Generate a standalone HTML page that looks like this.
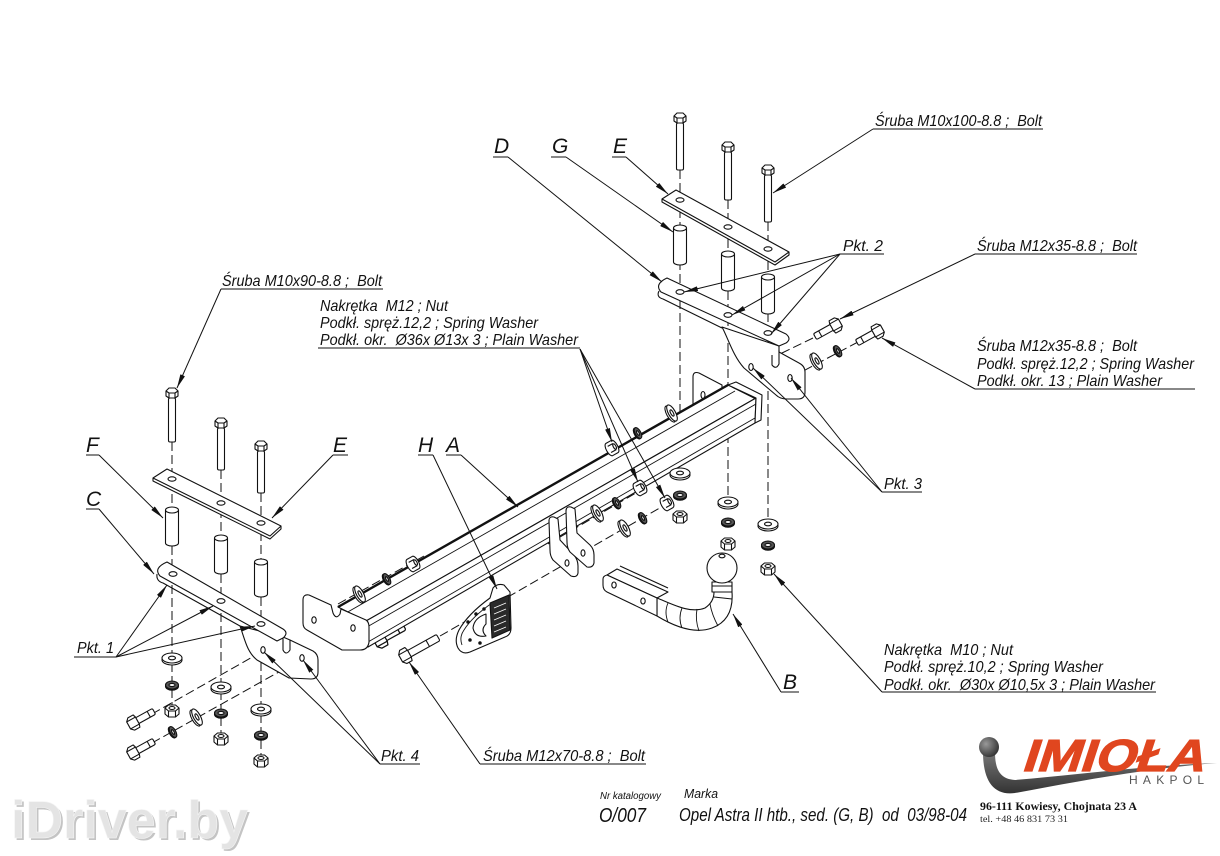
<!DOCTYPE html>
<html><head><meta charset="utf-8">
<style>
html,body{margin:0;padding:0;background:#fff;width:1220px;height:856px;overflow:hidden}
svg{display:block}
.t{font-family:"Liberation Sans Narrow","Liberation Sans",sans-serif;font-style:italic;font-size:16px;fill:#111;white-space:pre}
.L{font-family:"Liberation Sans Narrow","Liberation Sans",sans-serif;font-style:italic;font-size:21px;fill:#111}
</style></head><body>
<svg width="1220" height="856" viewBox="0 0 1220 856" xmlns="http://www.w3.org/2000/svg" xml:space="preserve">
<defs>
<marker id="a" viewBox="0 0 14 5" refX="14" refY="2.5" markerWidth="14" markerHeight="5" markerUnits="userSpaceOnUse" orient="auto"><path d="M0,0L14,2.5L0,5Z" fill="#111"/></marker>
<g id="wv" fill="#fff" stroke="#111"><ellipse cy="2" rx="10" ry="5"/><ellipse rx="10" ry="5"/><ellipse rx="3.5" ry="1.8"/></g>
<g id="sv" stroke="#111"><ellipse cy="1.2" rx="6.5" ry="4" fill="#222"/><ellipse rx="6.5" ry="4" fill="#555"/><ellipse rx="3" ry="1.6" fill="#fff"/></g>
<g id="nv" fill="#fff" stroke="#111"><path d="M-7,-2L-3.5,-5L3.5,-5L7,-2L7,4L3.5,7L-3.5,7L-7,4Z"/><path d="M-7,-2L-3.5,1L3.5,1L7,-2M-3.5,1V7M3.5,1V7" fill="none"/><ellipse cy="-2" rx="3" ry="1.5"/></g>
<g id="wd" fill="#fff" stroke="#111"><ellipse cx="-2" rx="3.5" ry="9"/><ellipse rx="3.5" ry="9"/><ellipse rx="1.3" ry="3.5"/></g>
<g id="sd" stroke="#111"><ellipse cx="-1" rx="2.8" ry="6" fill="#222"/><ellipse rx="2.8" ry="6" fill="#555"/><ellipse rx="1" ry="2.6" fill="#fff"/></g>
<g id="nd" fill="#fff" stroke="#111"><path d="M-3,-7H3A3,7 0 0 1 3,7H-3A3,7 0 0 1 -3,-7Z"/><path d="M-3,-3.5H3M-3,3.5H3" fill="none"/><ellipse cx="3" rx="1.3" ry="3"/></g>
<g id="bd" fill="#fff" stroke="#111"><rect x="4" y="-3.3" width="20" height="6.6" rx="1.5"/><path d="M18,-3.3V3.3" fill="none"/><path d="M-5,-4L-2,-7H4L5,-4V4L4,7H-2L-5,4Z"/><path d="M-5,-4H5M-5,4H5" fill="none"/></g>
<g id="bdl" fill="#fff" stroke="#111"><rect x="4" y="-3.6" width="34" height="7.2" rx="1.5"/><path d="M26,-3.6V3.6" fill="none"/><path d="M-5,-4L-2,-7.5H4L5,-4V4L4,7.5H-2L-5,4Z"/><path d="M-5,-4H5M-5,4H5" fill="none"/></g>
<g id="bh" fill="#fff" stroke="#111"><path d="M-6,-2L-3,-5L3,-5L6,-2L6,3L3,5L-3,5L-6,3Z"/><path d="M-6,-2L-3,0L3,0L6,-2M-3,0V5M3,0V5" fill="none"/></g>
<linearGradient id="gr" x1="0" y1="0" x2="0" y2="1"><stop offset="0" stop-color="#777"/><stop offset="1" stop-color="#333"/></linearGradient>
<radialGradient id="gb" cx="0.35" cy="0.35" r="0.7"><stop offset="0" stop-color="#999"/><stop offset="1" stop-color="#333"/></radialGradient>
</defs>

<!-- dashed axis lines -->
<g fill="none" stroke="#111" stroke-width="1" stroke-dasharray="9,4">
<path d="M680,170V470M728,200V500M768,222V522"/>
<path d="M172,442V712M221,470V740M261,493V762"/>
<path d="M152,714L263,651M152,743L302,659"/>
<path d="M338,604L424,556"/>
<path d="M598,459L700,401"/>
<path d="M548,544L648,486"/>
<path d="M583,552L672,501"/>
<path d="M440,636L567,563"/>
<path d="M813,338L751,368M858,342L790,378"/>
</g>

<g fill="#fff" stroke="#111" stroke-width="1.1" stroke-linejoin="round">
<!-- top bolts -->
<rect x="676.5" y="123" width="7" height="47" rx="1.5"/><use href="#bh" x="680" y="118"/>
<rect x="724.5" y="152" width="7" height="48" rx="1.5"/><use href="#bh" x="728" y="147"/>
<rect x="764.5" y="175" width="7" height="47" rx="1.5"/><use href="#bh" x="768" y="170"/>
<!-- top plate E -->
<path d="M662,199L676,190L789,252L789,255L775,265L662,202Z"/>
<path d="M662,199L775,262L789,252" fill="none"/>
<ellipse cx="680" cy="200" rx="4" ry="2.2"/><ellipse cx="728" cy="227" rx="4" ry="2.2"/><ellipse cx="768" cy="249" rx="4" ry="2.2"/>
<!-- top spacers G -->
<path d="M673.5,228V262A6.5,3 0 0 0 686.5,262V228Z"/><ellipse cx="680" cy="228" rx="6.5" ry="3"/>
<path d="M721.5,254V288A6.5,3 0 0 0 734.5,288V254Z"/><ellipse cx="728" cy="254" rx="6.5" ry="3"/>
<path d="M761.5,277V311A6.5,3 0 0 0 774.5,311V277Z"/><ellipse cx="768" cy="277" rx="6.5" ry="3"/>
<!-- small back plate -->
<path d="M693,377Q693,371 699,373L722,385L722,398L700,418Q693,421 693,414Z"/>
<ellipse cx="703" cy="395" rx="2" ry="3.5"/>
<!-- bracket D web -->
<path d="M722,327C728,338 733,356 744,368L776,395Q780,399 787,399L798,399Q805,399 805,392L805,372Q805,366 799,363L779,352L779,346Z"/>
<path d="M779,350L779,364Q776,370 772,365L772,355" fill="none"/>
<ellipse cx="751" cy="367" rx="2.2" ry="3.5"/><ellipse cx="790" cy="378" rx="2.2" ry="3.5"/>
<!-- bracket D bar -->
<path d="M659,291Q656,297 663,299L722,328" fill="none"/>
<path d="M667,278L786,334Q792,339 786,343L779,346L661,292Q654,284 667,278Z"/>
<ellipse cx="680" cy="292" rx="4" ry="2.3"/><ellipse cx="728" cy="315" rx="4" ry="2.3"/><ellipse cx="768" cy="333" rx="4" ry="2.3"/>

<!-- right M12 bolts + washers -->
<use href="#bd" transform="translate(836,325) rotate(151)"/>
<use href="#bd" transform="translate(878,331) rotate(151)"/>
<use href="#sd" transform="translate(838,351) rotate(-29)"/>
<use href="#wd" transform="translate(817,361) rotate(-29)"/>

<!-- under-beam bolt -->
<use href="#bd" transform="translate(380,640) rotate(-29) scale(1.15)"/>

<!-- beam -->
<path d="M338,607L728,385L756,398L366,621Z"/>
<path d="M366,621L756,398L755,423L368,647Z"/>
<path d="M728,385L736,382L762,395L761,420L755,423L756,398Z"/>
<path d="M732,387L756,399" fill="none"/>
<path d="M338,607L728,385" fill="none" stroke-width="2.4"/>
<path d="M346,613L735,391M367,627L756,404M368,642L755,418" fill="none" stroke-width="0.9"/>
<!-- left end plate -->
<path d="M303,600Q303,594 309,595L331,605L333,613Q336,620 340,614L341,609L366,620Q369,622 369,627L369,642Q368,650 360,650L342,650L307,630Q303,628 303,623Z"/>
<ellipse cx="314" cy="620" rx="2.2" ry="3.2"/><ellipse cx="353" cy="628" rx="2.2" ry="3.2"/>

<!-- beam top washers -->
<use href="#wd" transform="translate(360,594) rotate(-29)"/>
<use href="#sd" transform="translate(387,579) rotate(-29)"/>
<use href="#nd" transform="translate(413,564) rotate(-29)"/>
<use href="#nd" transform="translate(612,448) rotate(-29)"/>
<use href="#sd" transform="translate(638,433) rotate(-29)"/>
<use href="#wd" transform="translate(672,413) rotate(-29)"/>

<!-- mid ears -->
<path d="M549,521Q549,516 554,517L558,519L560,540L574,555Q578,560 578,566L578,573Q577,578 571,576L553,560Q550,556 550,550Z"/>
<ellipse cx="567" cy="563" rx="2" ry="3.2"/>
<path d="M566,511Q566,506 571,507L575,509L577,533L590,545Q594,549 594,555L594,563Q593,568 587,567L570,552Q567,548 567,542Z"/>
<ellipse cx="583" cy="553" rx="2" ry="3.2"/>

<!-- lower rows -->
<use href="#wd" transform="translate(598,513) rotate(-29)"/>
<use href="#sd" transform="translate(617,503) rotate(-29)"/>
<use href="#nd" transform="translate(640,488) rotate(-29)"/>
<use href="#wd" transform="translate(625,528) rotate(-29)"/>
<use href="#sd" transform="translate(643,518) rotate(-29)"/>
<use href="#nd" transform="translate(667,503) rotate(-29)"/>

<!-- right vertical stacks -->
<use href="#wv" x="680" y="473"/><use href="#sv" x="680" y="495"/><use href="#nv" x="680" y="516"/>
<use href="#wv" x="728" y="502"/><use href="#sv" x="728" y="522"/><use href="#nv" x="728" y="543"/>
<use href="#wv" x="768" y="524"/><use href="#sv" x="768" y="545"/><use href="#nv" x="768" y="568"/>

<!-- ball mount -->
<path d="M620,566L668,588" fill="none"/>
<path d="M607,575L617,569L668,592L657,598Z"/>
<path d="M657,598C672,604 690,614 705,608Q714,602 714,592L732,592Q734,620 712,628Q690,636 657,616Z"/>
<path d="M607,575L657,598L657,616L607,592Q603,590 603,585L603,579Q603,576 607,575Z"/>
<ellipse cx="614" cy="585" rx="2.2" ry="3"/><ellipse cx="643" cy="601" rx="2.2" ry="3"/>
<path d="M668,603Q664,612 668,622M682,608Q678,618 682,628M697,609Q695,620 699,631M710,604Q712,615 718,626M714,597L732,599" fill="none" stroke-width="0.9"/>
<path d="M712,592L712,582L732,582L732,592Z"/>
<path d="M712,586H732" fill="none"/>
<circle cx="722" cy="568" r="15"/>
<ellipse cx="722" cy="556" rx="3" ry="1.8"/>

<!-- socket H -->
<path d="M458,648Q454,640 459,630Q468,614 490,598L493,588Q497,583 504,585L510,592L511,628Q511,635 505,637L470,652Q462,655 458,648Z"/>
<path d="M462,645Q459,637 464,630Q472,617 492,603" fill="none" stroke-width="0.9"/>
<path d="M490,603L509,595L510,630L492,638Z" fill="#2a2a2a"/>
<path d="M494,608L506,603M494,614L506,609M494,620L506,615M494,626L506,621M494,632L506,627" fill="none" stroke="#fff" stroke-width="0.8"/>
<path d="M486,614Q474,618 473,628Q475,638 486,636Q480,630 486,624Z"/>
<circle cx="468" cy="622" r="1.2" fill="#111"/><circle cx="476" cy="614" r="1.2" fill="#111"/><circle cx="484" cy="609" r="1.2" fill="#111"/><circle cx="470" cy="640" r="1.2" fill="#111"/><circle cx="480" cy="643" r="1.2" fill="#111"/>

<!-- M12x70 bolt -->
<use href="#bdl" transform="translate(405,656) rotate(-29)"/>

<!-- left vertical bolts -->
<rect x="168.5" y="398" width="7" height="44" rx="1.5"/><use href="#bh" x="172" y="393"/>
<rect x="217.5" y="428" width="7" height="42" rx="1.5"/><use href="#bh" x="221" y="423"/>
<rect x="257.5" y="451" width="7" height="42" rx="1.5"/><use href="#bh" x="261" y="446"/>
<!-- left plate E -->
<path d="M153,478L167,469L281,526L281,529L270,539L153,481Z"/>
<path d="M153,478L270,536L281,526" fill="none"/>
<ellipse cx="172" cy="479" rx="4" ry="2.2"/><ellipse cx="221" cy="503" rx="4" ry="2.2"/><ellipse cx="261" cy="523" rx="4" ry="2.2"/>
<!-- left spacers F -->
<path d="M165.5,510V543A6.5,3 0 0 0 178.5,543V510Z"/><ellipse cx="172" cy="510" rx="6.5" ry="3"/>
<path d="M214.5,538V571A6.5,3 0 0 0 227.5,571V538Z"/><ellipse cx="221" cy="538" rx="6.5" ry="3"/>
<path d="M254.5,562V594A6.5,3 0 0 0 267.5,594V562Z"/><ellipse cx="261" cy="562" rx="6.5" ry="3"/>
<!-- bracket C -->
<path d="M240,626C245,640 247,652 257,660L289,678L311,679Q318,679 318,672L318,660Q318,654 313,651L290,640L283,637Z"/>
<path d="M283,637L283,650Q286,656 290,650L290,640" fill="none"/>
<ellipse cx="263" cy="650" rx="2.2" ry="3.3"/><ellipse cx="302" cy="658" rx="2.2" ry="3.3"/>
<path d="M157,574Q156,581 163,583L240,626" fill="none"/>
<path d="M167,562L283,629Q289,633 283,638L277,641L160,576Q153,568 167,562Z"/>
<ellipse cx="173" cy="574" rx="4" ry="2.3"/><ellipse cx="221" cy="601" rx="4" ry="2.3"/><ellipse cx="261" cy="624" rx="4" ry="2.3"/>

<!-- left stacks -->
<use href="#wv" x="172" y="658"/><use href="#sv" x="172" y="685"/><use href="#nv" x="172" y="710"/>
<use href="#wv" x="221" y="687"/><use href="#sv" x="221" y="713"/><use href="#nv" x="221" y="738"/>
<use href="#wv" x="261" y="709"/><use href="#sv" x="261" y="735"/><use href="#nv" x="261" y="760"/>
<use href="#bd" transform="translate(133,723) rotate(-29)"/>
<use href="#bd" transform="translate(133,753) rotate(-29)"/>
<use href="#sd" transform="translate(173,732) rotate(-29)"/>
<use href="#wd" transform="translate(197,717) rotate(-29)"/>
</g>

<!-- leaders -->
<g fill="none" stroke="#111" stroke-width="1">
<path d="M873,129H1043"/><path d="M873,129L773,193" marker-end="url(#a)"/>
<path d="M493,157H508"/><path d="M508,157L662,282" marker-end="url(#a)"/>
<path d="M551,157H566"/><path d="M566,157L673,232" marker-end="url(#a)"/>
<path d="M612,157H626"/><path d="M626,157L668,194" marker-end="url(#a)"/>
<path d="M840,254H884"/>
<path d="M840,254L684,292" marker-end="url(#a)"/><path d="M840,254L732,315" marker-end="url(#a)"/><path d="M840,254L771,334" marker-end="url(#a)"/>
<path d="M975,254H1137"/><path d="M975,254L840,319" marker-end="url(#a)"/>
<path d="M975,389H1195"/><path d="M975,389L882,338" marker-end="url(#a)"/>
<path d="M882,492H922"/><path d="M882,492L753,368" marker-end="url(#a)"/><path d="M882,492L791,378" marker-end="url(#a)"/>
<path d="M221,289H383"/><path d="M221,289L177,388" marker-end="url(#a)"/>
<path d="M318,348H580"/>
<path d="M580,349L612,442" marker-end="url(#a)"/><path d="M580,349L638,482" marker-end="url(#a)"/><path d="M580,349L665,498" marker-end="url(#a)"/>
<path d="M86,455H99"/><path d="M99,455L163,518" marker-end="url(#a)"/>
<path d="M333,455H348"/><path d="M333,455L272,518" marker-end="url(#a)"/>
<path d="M418,455H433"/><path d="M433,455L497,589" marker-end="url(#a)"/>
<path d="M446,455H461"/><path d="M461,455L518,507" marker-end="url(#a)"/>
<path d="M86,509H99"/><path d="M99,509L154,574" marker-end="url(#a)"/>
<path d="M74,657H116"/>
<path d="M116,657L167,585" marker-end="url(#a)"/><path d="M116,657L213,606" marker-end="url(#a)"/><path d="M116,657L255,626" marker-end="url(#a)"/>
<path d="M380,764H420"/><path d="M380,764L264,652" marker-end="url(#a)"/><path d="M380,764L303,660" marker-end="url(#a)"/>
<path d="M480,764H646"/><path d="M480,764L409,662" marker-end="url(#a)"/>
<path d="M781,692H799"/><path d="M781,692L733,614" marker-end="url(#a)"/>
<path d="M882,692H1156"/><path d="M882,692L774,574" marker-end="url(#a)"/>
</g>

<!-- labels -->
<text class="t" x="875" y="126" textLength="167" lengthAdjust="spacingAndGlyphs">Śruba M10x100-8.8 ;  Bolt</text>
<text class="L" x="494" y="153">D</text>
<text class="L" x="552" y="153">G</text>
<text class="L" x="613" y="153">E</text>
<text class="t" x="843" y="251" textLength="40" lengthAdjust="spacingAndGlyphs">Pkt. 2</text>
<text class="t" x="977" y="251" textLength="160" lengthAdjust="spacingAndGlyphs">Śruba M12x35-8.8 ;  Bolt</text>
<text class="t" x="222" y="286" textLength="160" lengthAdjust="spacingAndGlyphs">Śruba M10x90-8.8 ;  Bolt</text>
<text class="t" x="320" y="311" textLength="128" lengthAdjust="spacingAndGlyphs">Nakrętka  M12 ; Nut</text>
<text class="t" x="320" y="328" textLength="218" lengthAdjust="spacingAndGlyphs">Podkł. spręż.12,2 ; Spring Washer</text>
<text class="t" x="320" y="345" textLength="258" lengthAdjust="spacingAndGlyphs">Podkł. okr.  Ø36x Ø13x 3 ; Plain Washer</text>
<text class="t" x="977" y="351" textLength="160" lengthAdjust="spacingAndGlyphs">Śruba M12x35-8.8 ;  Bolt</text>
<text class="t" x="977" y="369" textLength="217" lengthAdjust="spacingAndGlyphs">Podkł. spręż.12,2 ; Spring Washer</text>
<text class="t" x="977" y="386" textLength="185" lengthAdjust="spacingAndGlyphs">Podkł. okr. 13 ; Plain Washer</text>
<text class="L" x="86" y="452">F</text>
<text class="L" x="333" y="452">E</text>
<text class="L" x="418" y="452">H</text>
<text class="L" x="446" y="452">A</text>
<text class="L" x="86" y="506">C</text>
<text class="t" x="884" y="489" textLength="38" lengthAdjust="spacingAndGlyphs">Pkt. 3</text>
<text class="t" x="77" y="653" textLength="37" lengthAdjust="spacingAndGlyphs">Pkt. 1</text>
<text class="t" x="884" y="655" textLength="129" lengthAdjust="spacingAndGlyphs">Nakrętka  M10 ; Nut</text>
<text class="t" x="884" y="672" textLength="219" lengthAdjust="spacingAndGlyphs">Podkł. spręż.10,2 ; Spring Washer</text>
<text class="t" x="884" y="690" textLength="271" lengthAdjust="spacingAndGlyphs">Podkł. okr.  Ø30x Ø10,5x 3 ; Plain Washer</text>
<text class="L" x="783" y="689">B</text>
<text class="t" x="381" y="761" textLength="38" lengthAdjust="spacingAndGlyphs">Pkt. 4</text>
<text class="t" x="483" y="761" textLength="162" lengthAdjust="spacingAndGlyphs">Śruba M12x70-8.8 ;  Bolt</text>

<!-- title block -->
<text class="t" x="600" y="799" style="font-size:10px" textLength="61" lengthAdjust="spacingAndGlyphs">Nr katalogowy</text>
<text class="t" x="684" y="798" style="font-size:13px" textLength="34" lengthAdjust="spacingAndGlyphs">Marka</text>
<text class="t" x="599" y="822" style="font-size:20px" textLength="47" lengthAdjust="spacingAndGlyphs">O/007</text>
<text class="t" x="679" y="821" style="font-size:18px" textLength="288" lengthAdjust="spacingAndGlyphs">Opel Astra II htb., sed. (G, B)  od  03/98-04</text>

<!-- logo -->
<path d="M983,752L995,752C995,768 999,779 1015,780C1075,775 1140,766 1217,763C1140,769 1075,782 1015,793C993,796 983,780 983,752Z" fill="url(#gr)"/>
<circle cx="989" cy="747" r="10" fill="url(#gb)"/>
<g transform="translate(1021,771) skewX(-18)">
<text x="0" y="0" style="font-family:'Liberation Sans',sans-serif;font-weight:bold;font-size:45px;fill:#e0461f;stroke:#e0461f;stroke-width:1.2" textLength="182" lengthAdjust="spacingAndGlyphs">IMIOŁA</text>
</g>
<text x="1129" y="784" style="font-family:'Liberation Sans',sans-serif;font-size:12px;fill:#555" textLength="75" lengthAdjust="spacing">HAKPOL</text>
<text x="980" y="810" style="font-family:'Liberation Serif',serif;font-weight:bold;font-size:12px;fill:#111" textLength="157" lengthAdjust="spacingAndGlyphs">96-111 Kowiesy, Chojnata 23 A</text>
<text x="980" y="822" style="font-family:'Liberation Serif',serif;font-size:9.5px;fill:#222" textLength="88" lengthAdjust="spacingAndGlyphs">tel. +48 46 831 73 31</text>

<!-- watermark -->
<text x="13" y="840" style="font-family:'Liberation Sans',sans-serif;font-weight:bold;font-size:53px;fill:#c4c4c4" textLength="237" lengthAdjust="spacingAndGlyphs">iDriver.by</text>
<text x="11" y="838" style="font-family:'Liberation Sans',sans-serif;font-weight:bold;font-size:53px;fill:#e4e4e4;stroke:#f4f4f4;stroke-width:0.6" textLength="237" lengthAdjust="spacingAndGlyphs">iDriver.by</text>
</svg>
</body></html>
